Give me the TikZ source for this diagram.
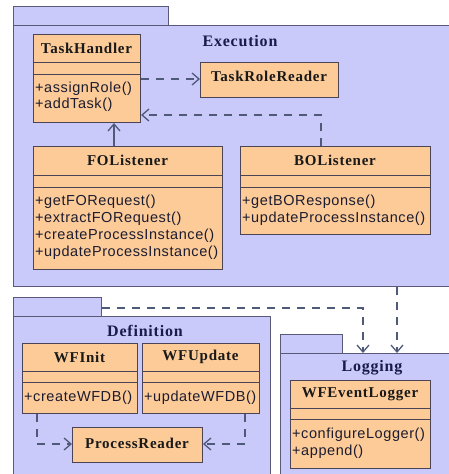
\documentclass[tikz,border=0pt]{standalone}
\usepackage{fontspec}
\setmainfont{Liberation Serif}
\newfontfamily\clsfont[LetterSpace=5]{Liberation Serif}
\newfontfamily\opfont[LetterSpace=4]{Liberation Sans}
\usetikzlibrary{calc,arrows.meta}

\definecolor{pkgfill}{HTML}{CACAFA}
\definecolor{pkgline}{HTML}{5A5A78}
\definecolor{clsfill}{HTML}{FCCB98}
\definecolor{clsline}{HTML}{4A4456}
\definecolor{depline}{HTML}{4E5A78}
\definecolor{pkgtext}{HTML}{1A1A4A}
\definecolor{optext}{HTML}{1C1C30}

% draws a class box from its two corners
\newcommand\umlclass[5]{%
  \node[clsbox, anchor=north west, minimum width={#3-#2}, minimum height={#5-#4}]
    (#1) at (#2,#4) {};}

\begin{document}
\begin{tikzpicture}[x=1pt,y=-1pt,
  pkgbox/.style={draw=pkgline, fill=pkgfill, line width=1pt, inner sep=0pt, anchor=north west},
  clsbox/.style={draw=clsline, fill=clsfill, line width=1pt, inner sep=0pt},
  pkgname/.style={font=\clsfont\bfseries\fontsize{16}{18}\selectfont, text=pkgtext, inner sep=0pt},
  clsname/.style={font=\clsfont\bfseries\fontsize{15}{17}\selectfont, text=black!90, inner sep=0pt},
  ops/.style={font=\opfont\fontsize{14.5}{17}\selectfont, text=optext, align=left, inner sep=0pt, anchor=north west},
  rule/.style={draw=clsline, line width=1pt},
  dep/.style={draw=depline, line width=1.1pt, dash pattern=on 8pt off 7pt,
    -{Straight Barb[length=7pt,width=12pt,line width=1.3pt]}},
]
\useasboundingbox (0,0) rectangle (449,474);
\fill[white] (0,0) rectangle (449,474);

% ---------- packages ----------
\node[pkgbox, minimum width=155, minimum height=19] (exectab) at (13,6) {};
\node[pkgbox, minimum width=440, minimum height=261] (exec) at (13,25) {};
\node[pkgname] (execlbl) at (240,41) {Execution};

\node[pkgbox, minimum width=88, minimum height=19] (deftab) at (13,297) {};
\node[pkgbox, minimum width=257, minimum height=175] (def) at (13,316) {};
\node[pkgname] (deflbl) at (145,331) {Definition};

\node[pkgbox, minimum width=62, minimum height=19] (logtab) at (280,334) {};
\node[pkgbox, minimum width=175, minimum height=140] (log) at (280,353) {};
\node[pkgname] (loglbl) at (372,368) {Logging};

% ---------- Execution classes ----------
\umlclass{th}{33}{140}{34}{122}
\draw[rule] (th.west |- 0,62) -- (th.east |- 0,62);
\draw[rule] (th.west |- 0,74) -- (th.east |- 0,74);
\node[clsname] (th-n) at (86.5,48) {TaskHandler};
\node[ops, font=\opfont\fontsize{14.5}{16}\selectfont] (th-o) at (35,82) {+assignRole()\\+addTask()};

\umlclass{trr}{200}{338}{62}{97}
\node[clsname] (trr-n) at (269,76) {TaskRoleReader};

\umlclass{fol}{33}{222}{146}{269}
\draw[rule] (fol.west |- 0,175) -- (fol.east |- 0,175);
\draw[rule] (fol.west |- 0,187) -- (fol.east |- 0,187);
\node[clsname] (fol-n) at (127.5,160) {FOListener};
\node[ops] (fol-o) at (35,195)
  {+getFORequest()\\+extractFORequest()\\+createProcessInstance()\\+updateProcessInstance()};

\umlclass{bol}{240}{430}{146}{234}
\draw[rule] (bol.west |- 0,175) -- (bol.east |- 0,175);
\draw[rule] (bol.west |- 0,187) -- (bol.east |- 0,187);
\node[clsname] (bol-n) at (335,160) {BOListener};
\node[ops] (bol-o) at (242,195) {+getBOResponse()\\+updateProcessInstance()};

% ---------- Definition classes ----------
\umlclass{wfi}{22}{137}{343}{413}
\draw[rule] (wfi.west |- 0,371) -- (wfi.east |- 0,371);
\draw[rule] (wfi.west |- 0,382) -- (wfi.east |- 0,382);
\node[clsname] (wfi-n) at (79.5,357) {WFInit};
\node[ops] (wfi-o) at (24,391) {+createWFDB()};

\umlclass{wfu}{142}{259}{343}{413}
\draw[rule] (wfu.west |- 0,371) -- (wfu.east |- 0,371);
\draw[rule] (wfu.west |- 0,382) -- (wfu.east |- 0,382);
\node[clsname] (wfu-n) at (200.5,357) {WFUpdate};
\node[ops] (wfu-o) at (144,391) {+updateWFDB()};

\umlclass{pr}{72}{202}{427}{462}
\node[clsname] (pr-n) at (137,443) {ProcessReader};

% ---------- Logging class ----------
\umlclass{wel}{290}{430}{380}{468}
\draw[rule] (wel.west |- 0,408) -- (wel.east |- 0,408);
\draw[rule] (wel.west |- 0,419) -- (wel.east |- 0,419);
\node[clsname] (wel-n) at (360,394) {WFEventLogger};
\node[ops] (wel-o) at (292,428) {+configureLogger()\\+append()};

% ---------- dependencies ----------
\draw[dep] (th.east |- 0,79) -- (trr.west |- 0,79);
\draw[dep] (bol.north -| 321,0) |- (th.east |- 0,115);
\draw[dep, dash pattern=on 24pt off 0pt] (fol.north -| 114,0) -- (th.south -| 114,0);
\draw[dep] (wfi.south -| 37,0) |- (pr.west |- 0,444);
\draw[dep] (wfu.south -| 245,0) |- (pr.east |- 0,444);
\draw[dep] (deftab.east |- 0,308) -| (log.north -| 363,0);
\draw[dep] (exec.south -| 397,0) -- (log.north -| 397,0);
\end{tikzpicture}
\end{document}
